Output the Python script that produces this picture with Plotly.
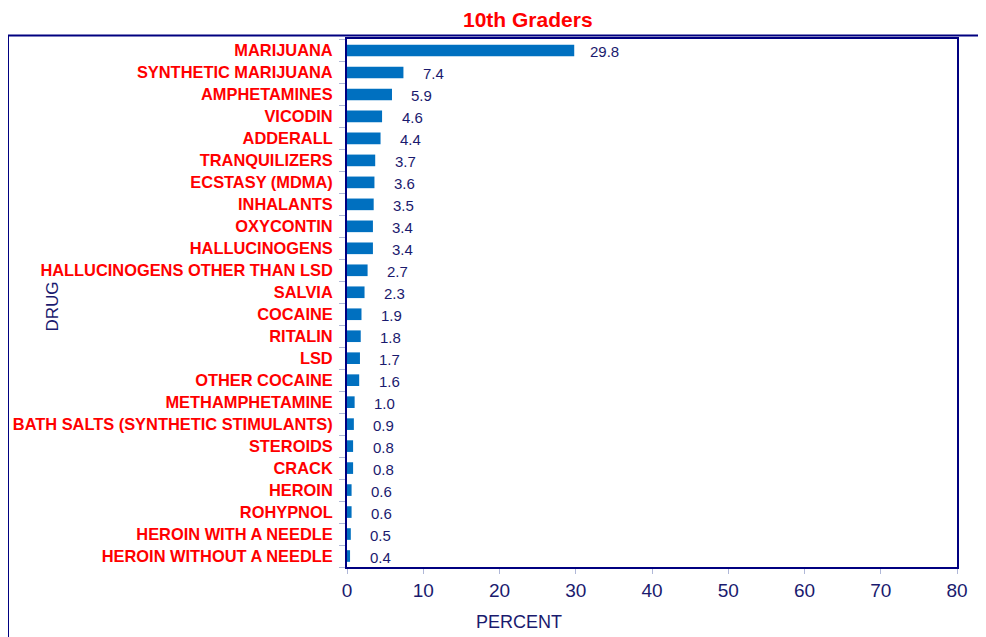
import plotly.graph_objects as go

drugs = ["MARIJUANA", "SYNTHETIC MARIJUANA", "AMPHETAMINES", "VICODIN", "ADDERALL",
         "TRANQUILIZERS", "ECSTASY (MDMA)", "INHALANTS", "OXYCONTIN", "HALLUCINOGENS",
         "HALLUCINOGENS OTHER THAN LSD", "SALVIA", "COCAINE", "RITALIN", "LSD",
         "OTHER COCAINE", "METHAMPHETAMINE", "BATH SALTS (SYNTHETIC STIMULANTS)",
         "STEROIDS", "CRACK", "HEROIN", "ROHYPNOL", "HEROIN WITH A NEEDLE",
         "HEROIN WITHOUT A NEEDLE"]
percent = [29.8, 7.4, 5.9, 4.6, 4.4, 3.7, 3.6, 3.5, 3.4, 3.4, 2.7, 2.3, 1.9, 1.8,
           1.7, 1.6, 1.0, 0.9, 0.8, 0.8, 0.6, 0.6, 0.5, 0.4]
x_ticks = [0, 10, 20, 30, 40, 50, 60, 70, 80]

NAVY = "#000080"
TXT = "#1a1a6e"
RED = "#ff0000"
BAR = "#0070c0"
FONT = "Arial, Liberation Sans"

fig = go.Figure(go.Bar(
    x=percent, y=drugs, orientation="h",
    marker=dict(color=BAR, line=dict(width=0)),
    hoverinfo="x+y",
))

for d, v in zip(drugs, percent):
    fig.add_annotation(x=v, y=d, text=f"{v:.1f}", showarrow=False,
                       xanchor="center", xshift=30, yshift=-1,
                       font=dict(family=FONT, size=15, color=TXT))

fig.update_layout(
    width=986, height=637,
    margin=dict(l=339, r=37, t=31, b=78, autoexpand=False),
    paper_bgcolor="white", plot_bgcolor="white",
    bargap=0.47,
    showlegend=False,
    font=dict(family=FONT),
)
fig.update_xaxes(
    range=[0, 80], tickvals=x_ticks, showgrid=False, zeroline=False,
    showline=True, linecolor=NAVY, linewidth=2, mirror=True,
    ticks="outside", ticklen=5, tickcolor="#b0b8d8", automargin=False,
    tickfont=dict(size=19, color=TXT, family=FONT),
)
fig.update_yaxes(
    autorange="reversed", showgrid=False, zeroline=False,
    showline=True, linecolor=NAVY, linewidth=2, mirror=True,
    ticks="outside", ticklen=6, tickcolor="#b0b8d8", tickson="boundaries",
    tickfont=dict(size=16.4, color=RED, family=FONT), automargin=False,
    ticklabelstandoff=9,
    tickmode="array", tickvals=drugs, ticktext=[f"<b>{d}</b>" for d in drugs],
)

fig.add_annotation(text="<b>10th Graders</b>", xref="paper", yref="paper",
                   x=(527.5 - 347) / 610, y=1, yshift=20, showarrow=False,
                   xanchor="center", yanchor="middle",
                   font=dict(size=21, color=RED, family=FONT))
fig.add_annotation(text="DRUG", xref="paper", yref="paper",
                   x=(51.5 - 347) / 610, y=(567 - 307) / 528, showarrow=False,
                   textangle=-90, xanchor="center", yanchor="middle",
                   font=dict(size=17, color=TXT, family=FONT))
fig.add_annotation(text="PERCENT", xref="paper", yref="paper",
                   x=(518.5 - 347) / 610, y=-(622 - 567) / 528, showarrow=False,
                   xanchor="center", yanchor="middle",
                   font=dict(size=18, color=TXT, family=FONT))
# outer frame (extends past right and bottom edges)
fig.add_shape(type="rect", xref="paper", yref="paper",
              x0=(8 - 347) / 610, x1=(1000 - 347) / 610,
              y0=-(650 - 567) / 528, y1=(567 - 35.5) / 528,
              line=dict(color=NAVY, width=2), layer="below")

fig.write_html("out.html")
